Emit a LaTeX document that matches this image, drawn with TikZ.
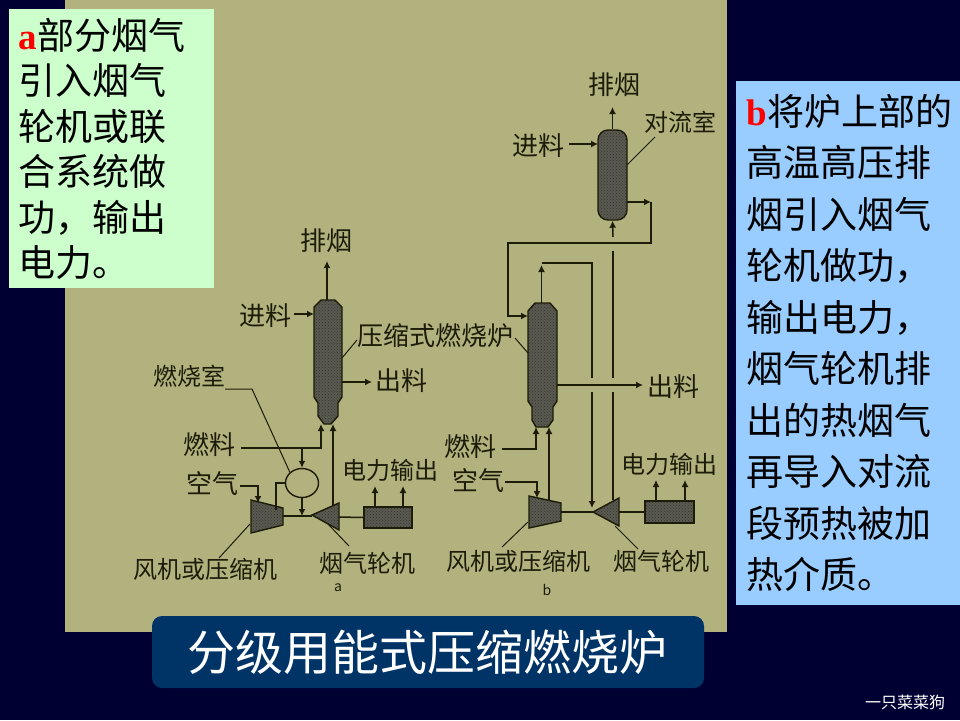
\documentclass[tikz,border=0pt]{standalone}
\usepackage{fontspec}
\setmainfont{Noto Sans CJK SC}
\newfontfamily\latinbold{Liberation Serif}
\usetikzlibrary{arrows.meta, patterns, shapes.geometric}
\definecolor{navybg}{HTML}{000033}
\definecolor{khaki}{HTML}{B2B27F}
\definecolor{inkline}{HTML}{1C1C08}
\definecolor{hatchgray}{HTML}{5A5A50}
\definecolor{notegreen}{HTML}{CCFFCC}
\definecolor{noteblue}{HTML}{99CCFF}
\definecolor{titleblue}{HTML}{003366}
\tikzset{
    panel/.style={rectangle, inner sep=0pt, outer sep=0pt, anchor=north west},
    note/.style={anchor=north west, inner sep=0pt, align=left, text=black},
    tag/.style={font=\fontsize{24}{24}\selectfont, text=inkline, inner sep=0pt},
    widetag/.style={tag, font=\fontsize{26}{26}\selectfont},
    unit/.style={draw=inkline, line width=1.4pt, preaction={fill=hatchgray},
        pattern=crosshatch dots, pattern color=black!80},
    pipe/.style={draw=inkline, line width=1.5pt},
    flow/.style={pipe, -{Latex[length=7pt,width=7pt]}},
    leader/.style={draw=inkline, line width=1pt}
}
\begin{document}
\begin{tikzpicture}[x=1pt, y=-1pt]
    \useasboundingbox (0,0) rectangle (960,720);
    \fill[navybg] (0,0) rectangle (960,720);
    \node[panel, fill=khaki, minimum width=662pt, minimum height=632pt] (board) at (65,0) {};

    % note boxes
    \node[panel, fill=notegreen, minimum width=205pt, minimum height=279pt] (noteA) at (9,9) {};
    \node[panel, fill=noteblue, minimum width=224pt, minimum height=524pt] (noteB) at (736,81) {};
    \node[note, font=\fontsize{37}{45.5}\selectfont] (textA) at (18.5,18)
        {{\latinbold\bfseries\color{red}a}部分烟气\\引入烟气\\轮机或联\\合系统做\\功，输出\\电力。};
    \node[note, font=\fontsize{37}{51.5}\selectfont] (textB) at (746.5,94)
        {{\latinbold\bfseries\color{red}b}将炉上部的\\高温高压排\\烟引入烟气\\轮机做功，\\输出电力，\\烟气轮机排\\出的热烟气\\再导入对流\\段预热被加\\热介质。};

    % scheme a: units
    \draw[unit] (321,300) -- (335,300) -- (342,307) -- (342,397) -- (338,403) -- (338,416) -- (331,424)
        -- (324,424) -- (318,416) -- (318,403) -- (314,397) -- (314,307) -- cycle;
    \draw[unit] (251,500) -- (283,508) -- (283,525) -- (251,533) -- cycle;
    \draw[unit] (312,515) -- (339,503) -- (339,530) -- cycle;
    \node[unit, rectangle, minimum width=48pt, minimum height=21pt, inner sep=0pt] (genA) at (388,517.5) {};
    \node[draw=inkline, line width=1.4pt, ellipse, minimum width=33pt, minimum height=29pt, inner sep=0pt] (chamberA) at (302,483) {};
    \coordinate (aTop) at (327,300);
    \coordinate (aExit) at (327,261);
    \coordinate (aFeedIn) at (294,314);
    \coordinate (aFeedEnd) at (314,314);
    \coordinate (aOutStart) at (342,382);
    \coordinate (aOutEnd) at (372,382);
    \coordinate (aFuelIn) at (241,448);
    \coordinate (aFuelEnd) at (321,424);
    \coordinate (aAirIn) at (240,486);
    \coordinate (aAirEnd) at (258,503);
    \coordinate (aGasStart) at (333,506);
    \coordinate (aGasEnd) at (333,424);

    % scheme a: connectors
    \draw[flow] (aTop) -- (aExit);
    \draw[flow] (aFeedIn) -- (aFeedEnd);
    \draw[flow] (aOutStart) -- (aOutEnd);
    \draw[flow] (aFuelIn) -| (aFuelEnd);
    \draw[flow] (302,448) -- (chamberA.north);
    \draw[flow] (chamberA.south) -- (302,516);
    \draw[pipe] (chamberA.west) -| (276,510);
    \draw[flow] (aAirIn) -| (aAirEnd);
    \draw[flow] (aGasStart) -- (aGasEnd);
    \draw[pipe] (283,516) -- (312,516);
    \draw[pipe] (339,517) -- (genA.west);
    \draw[flow] (375,507) -- (375,486);
    \draw[flow] (403,507) -- (403,486);
    \draw[leader] (225,389) -- (252,389) -- (chamberA.north west);
    \draw[leader] (342,358) -- (357,340);
    \draw[leader] (250,524) -- (219,558);
    \draw[leader] (328,524) -- (349,546);

    % scheme a: labels
    \node[widetag] (aSmoke) at (326,241) {排烟};
    \node[widetag] (aFeed) at (265,316) {进料};
    \node[widetag] (furnace) at (435,336) {压缩式燃烧炉};
    \node[widetag] (aOut) at (401,381) {出料};
    \node[tag] (aChamber) at (189,376) {燃烧室};
    \node[widetag] (aFuel) at (209,445) {燃料};
    \node[widetag] (aAir) at (212,484) {空气};
    \node[tag] (aPower) at (390,470) {电力输出};
    \node[tag] (aFan) at (205,569) {风机或压缩机};
    \node[tag] (aTurbine) at (367,563) {烟气轮机};
    \node[font=\fontsize{14}{14}\selectfont, text=inkline, inner sep=0pt] (aName) at (338,588) {a};

    % scheme b: units
    \node[unit, rectangle, rounded corners=10pt, minimum width=29pt, minimum height=90pt, inner sep=0pt] (convB) at (612.5,175) {};
    \draw[unit] (535,303) -- (550,303) -- (557,311) -- (557,401) -- (553,407) -- (553,420) -- (548,427)
        -- (536,427) -- (532,420) -- (532,407) -- (528,401) -- (528,311) -- cycle;
    \draw[unit] (529,496) -- (561,503) -- (561,521) -- (529,528) -- cycle;
    \draw[unit] (593,512) -- (619,498) -- (619,526) -- cycle;
    \node[unit, rectangle, minimum width=49pt, minimum height=22pt, inner sep=0pt] (genB) at (669.5,512) {};
    \coordinate (bConvExit) at (612.5,107);
    \coordinate (bConvFeedIn) at (569,144);
    \coordinate (bConvFeedEnd) at (598,144);
    \coordinate (bConvSide) at (627,202);
    \coordinate (bSideEnd) at (651,202);
    \coordinate (bReturnEnd) at (528,316);
    \coordinate (bTop) at (541.5,303);
    \coordinate (bTopEnd) at (541.5,265);
    \coordinate (bOutStart) at (557,385);
    \coordinate (bOutEnd) at (643,385);
    \coordinate (bFuelIn) at (502,449);
    \coordinate (bFuelEnd) at (536,427);
    \coordinate (bAirIn) at (505,482);
    \coordinate (bAirEnd) at (537,498);

    % scheme b: connectors
    \draw[flow] (convB.north) -- (bConvExit);
    \draw[flow] (bConvFeedIn) -- (bConvFeedEnd);
    \draw[flow] (bConvSide) -- (bSideEnd);
    \draw[flow] (bSideEnd) -- (651,243) -- (508,243) -- (508,316) -- (bReturnEnd);
    \draw[flow] (bTop) -- (bTopEnd);
    \draw[pipe] (541.5,263) -- (592,263) -- (592,378);
    \draw[flow] (592,392) -- (592,508);
    \draw[pipe] (613,500) -- (613,392);
    \draw[pipe] (613,378) -- (613,251);
    \draw[flow] (613,237) -- (convB.south);
    \draw[flow] (bOutStart) -- (bOutEnd);
    \draw[flow] (bFuelIn) -| (bFuelEnd);
    \draw[flow] (bAirIn) -| (bAirEnd);
    \draw[flow] (549,500) -- (549,427);
    \draw[pipe] (561,512) -- (593,512);
    \draw[pipe] (619,512) -- (genB.west);
    \draw[flow] (656,501) -- (656,480);
    \draw[flow] (685,501) -- (685,480);
    \draw[leader] (627,165) -- (655,137);
    \draw[leader] (528,353) -- (515,338);
    \draw[leader] (528,522) -- (502,547);
    \draw[leader] (615,526) -- (638,549);

    % scheme b: labels
    \node[widetag] (bSmoke) at (614,85) {排烟};
    \node[widetag] (bFeed) at (538,146) {进料};
    \node[tag] (bConv) at (680,122) {对流室};
    \node[widetag] (bOut) at (673,387) {出料};
    \node[widetag] (bFuel) at (470,447) {燃料};
    \node[widetag] (bAir) at (478,481) {空气};
    \node[tag] (bPower) at (669,464) {电力输出};
    \node[tag] (bFan) at (518,561) {风机或压缩机};
    \node[tag] (bTurbine) at (661,561) {烟气轮机};
    \node[font=\fontsize{14}{14}\selectfont, text=inkline, inner sep=0pt] (bName) at (547,590) {b};

    % title and footer
    \node[panel, fill=titleblue, rounded corners=10pt, minimum width=552pt, minimum height=72pt] (titlebox) at (152,616) {};
    \node[font=\fontsize{48}{48}\selectfont, text=white, inner sep=0pt] (title) at (427,652) {分级用能式压缩燃烧炉};
    \node[font=\fontsize{16}{16}\selectfont, text=white, inner sep=0pt] (footer) at (905,702) {一只菜菜狗};
\end{tikzpicture}
\end{document}
